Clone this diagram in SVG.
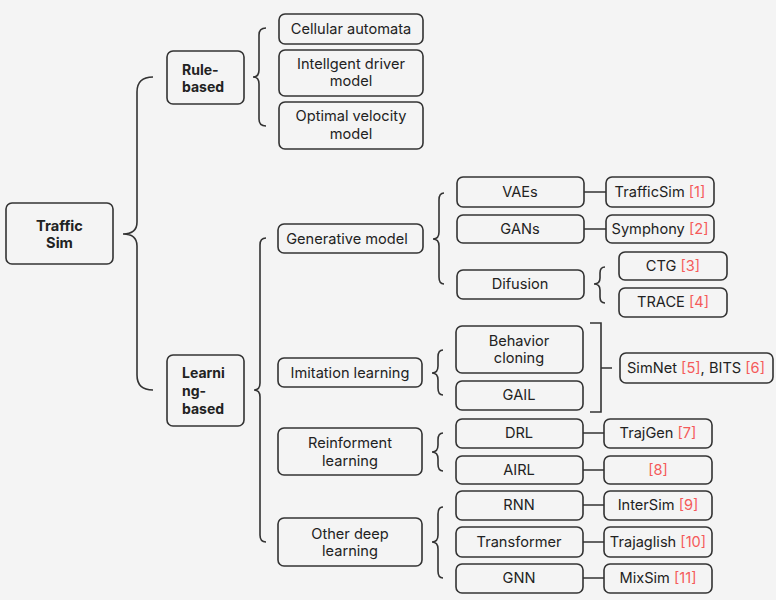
<svg xmlns="http://www.w3.org/2000/svg" width="776" height="600" viewBox="0 0 776 600">
<style>
.n{fill:#f4f4f4;stroke:#333;stroke-width:1.6}
.t{font-family:Inter,"Open Sans","Liberation Sans",sans-serif;font-size:14.6px;fill:#222;text-anchor:middle;dominant-baseline:central}
.b{font-weight:bold;text-anchor:start;font-size:14px}
.r{fill:#f55a5a}
.c{fill:none;stroke:#333;stroke-width:1.6}
</style>
<rect width="776" height="600" fill="#f4f4f4"/>
<g id="connectors">
<path class="c" d="M153,77 Q137,77 137,92 L137,222 Q137,234 123,234 Q137,234 137,246 L137,375 Q137,390 153,390"/>
<path class="c" d="M266,28 Q259,28 259,35 L259,70 Q259,77 253,77 Q259,77 259,84 L259,119 Q259,126 266,126"/>
<path class="c" d="M266,238 Q260,238 260,245 L260,383 Q260,390 254,390 Q260,390 260,397 L260,535 Q260,542 266,542"/>
<path class="c" d="M444,193 Q439,193 439,200 L439,232 Q439,239 433,239 Q439,239 439,246 L439,277 Q439,284 444,284"/>
<path class="c" d="M443,350 Q438,350 438,357 L438,366 Q438,373 432,373 Q438,373 438,380 L438,388 Q438,395 443,395"/>
<path class="c" d="M443,433 Q438,433 438,440 L438,445 Q438,452 432,452 Q438,452 438,459 L438,464 Q438,471 443,471"/>
<path class="c" d="M443,507 Q438,507 438,514 L438,535 Q438,542 432,542 Q438,542 438,549 L438,571 Q438,578 443,578"/>
<path class="c" d="M605,267 Q600,267 600,273 L600,278 Q600,284 594,284 Q600,284 600,290 L600,297 Q600,303 605,303"/>
<path class="c" d="M590,323 L601,323 L601,412 L590,412 M601,368 L612,368"/>
<path class="c" d="M584,192 H606 M584,229 H606 M583,433 H604 M583,470 H604 M583,505 H604 M583,542 H604 M583,578 H604"/>
</g>
<g id="traffic-sim"><rect class="n" x="6" y="203" width="107" height="61" rx="6"/><text class="t" x="59.5" y="226" font-weight="bold" font-size="14">Traffic</text><text class="t" x="59.5" y="243" font-weight="bold" font-size="14">Sim</text></g>
<g id="rule-based"><rect class="n" x="167" y="51" width="77" height="53" rx="6"/><text class="t b" x="182" y="69">Rule-</text><text class="t b" x="182" y="86">based</text></g>
<g id="learning-based"><rect class="n" x="167" y="355" width="77" height="71" rx="6"/><text class="t b" x="182" y="372">Learni</text><text class="t b" x="182" y="390">ng-</text><text class="t b" x="182" y="408">based</text></g>
<g id="cellular"><rect class="n" x="279" y="14" width="144" height="30" rx="6"/><text class="t" x="351" y="29">Cellular automata</text></g>
<g id="idm"><rect class="n" x="279" y="50" width="144" height="46" rx="6"/><text class="t" x="351" y="64">Intellgent driver</text><text class="t" x="351" y="81">model</text></g>
<g id="ovm"><rect class="n" x="279" y="102" width="144" height="47" rx="6"/><text class="t" x="351" y="116">Optimal velocity</text><text class="t" x="351" y="134">model</text></g>
<g id="generative"><rect class="n" x="278" y="224" width="145" height="29" rx="6"/><text class="t" x="347" y="239">Generative model</text></g>
<g id="imitation"><rect class="n" x="278" y="358" width="144" height="29" rx="6"/><text class="t" x="350" y="373">Imitation learning</text></g>
<g id="reinforcement"><rect class="n" x="278" y="428" width="144" height="47" rx="6"/><text class="t" x="350" y="443">Reinforment</text><text class="t" x="350" y="461">learning</text></g>
<g id="other-deep"><rect class="n" x="278" y="518" width="144" height="48" rx="6"/><text class="t" x="350" y="534">Other deep</text><text class="t" x="350" y="551">learning</text></g>
<g id="vaes"><rect class="n" x="457" y="177" width="127" height="30" rx="6"/><text class="t" x="520" y="192">VAEs</text></g>
<g id="gans"><rect class="n" x="457" y="215" width="127" height="28" rx="6"/><text class="t" x="520" y="229">GANs</text></g>
<g id="difusion"><rect class="n" x="457" y="270" width="127" height="29" rx="6"/><text class="t" x="520" y="284">Difusion</text></g>
<g id="behavior"><rect class="n" x="456" y="326" width="127" height="47" rx="6"/><text class="t" x="519" y="341">Behavior</text><text class="t" x="519" y="358">cloning</text></g>
<g id="gail"><rect class="n" x="456" y="381" width="127" height="29" rx="6"/><text class="t" x="519" y="395">GAIL</text></g>
<g id="drl"><rect class="n" x="456" y="419" width="127" height="29" rx="6"/><text class="t" x="519" y="433">DRL</text></g>
<g id="airl"><rect class="n" x="456" y="456" width="127" height="28" rx="6"/><text class="t" x="519" y="470">AIRL</text></g>
<g id="rnn"><rect class="n" x="456" y="491" width="127" height="29" rx="6"/><text class="t" x="519" y="505">RNN</text></g>
<g id="transformer"><rect class="n" x="456" y="527" width="127" height="30" rx="6"/><text class="t" x="519" y="542">Transformer</text></g>
<g id="gnn"><rect class="n" x="456" y="564" width="127" height="29" rx="6"/><text class="t" x="519" y="578">GNN</text></g>
<g id="trafficsim"><rect class="n" x="606" y="177" width="108" height="30" rx="6"/><text class="t" x="660" y="192">TrafficSim <tspan class="r">[1]</tspan></text></g>
<g id="symphony"><rect class="n" x="606" y="215" width="108" height="28" rx="6"/><text class="t" x="660" y="229">Symphony <tspan class="r">[2]</tspan></text></g>
<g id="ctg"><rect class="n" x="619" y="252" width="108" height="28" rx="6"/><text class="t" x="673" y="266">CTG <tspan class="r">[3]</tspan></text></g>
<g id="trace"><rect class="n" x="619" y="288" width="108" height="29" rx="6"/><text class="t" x="673" y="302">TRACE <tspan class="r">[4]</tspan></text></g>
<g id="simnet"><rect class="n" x="620" y="353" width="153" height="30" rx="6"/><text class="t" x="696" y="368">SimNet <tspan class="r">[5]</tspan>, BITS <tspan class="r">[6]</tspan></text></g>
<g id="trajgen"><rect class="n" x="604" y="419" width="108" height="29" rx="6"/><text class="t" x="658" y="433">TrajGen <tspan class="r">[7]</tspan></text></g>
<g id="ref8"><rect class="n" x="604" y="456" width="108" height="28" rx="6"/><text class="t" x="658" y="470"><tspan class="r">[8]</tspan></text></g>
<g id="intersim"><rect class="n" x="604" y="491" width="108" height="29" rx="6"/><text class="t" x="658" y="505">InterSim <tspan class="r">[9]</tspan></text></g>
<g id="trajaglish"><rect class="n" x="604" y="527" width="108" height="30" rx="6"/><text class="t" x="658" y="542">Trajaglish <tspan class="r">[10]</tspan></text></g>
<g id="mixsim"><rect class="n" x="604" y="564" width="108" height="29" rx="6"/><text class="t" x="658" y="578">MixSim <tspan class="r">[11]</tspan></text></g>
</svg>
